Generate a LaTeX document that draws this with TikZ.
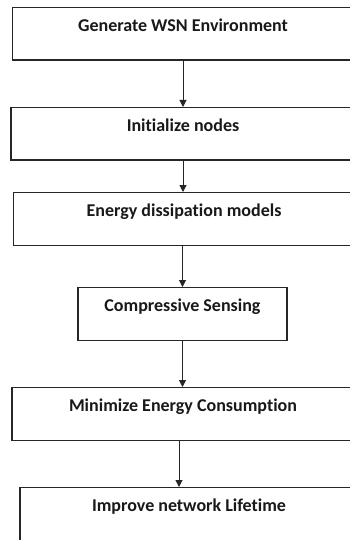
\documentclass[tikz,border=0pt]{standalone}
\usepackage{fontspec}
\setmainfont[Ligatures={NoCommon,NoContextual}]{Carlito}
\usetikzlibrary{arrows.meta,positioning}

\begin{document}
\begin{tikzpicture}[
  x=1pt, y=-1pt,
  font=\fontsize{18}{20}\selectfont\bfseries,
  stepbox/.style={draw=black!85, line width=1.1pt, fill=white, inner sep=0pt,
    text=black!90, text height=23.5pt, text depth=29pt, anchor=north},
  flow/.style={draw=black!85, line width=1pt, -{Triangle[length=7pt,width=7pt]}}
]

  % Frame
  \clip (0,0) rectangle (350,540);
  \fill[white] (0,0) rectangle (350,540);

  % Steps
  \node[stepbox, minimum width=341pt] (gen) at (183,7) {Generate WSN Environment};
  \node[stepbox, minimum width=344pt] (init) at (183,107) {Initialize nodes};
  \node[stepbox, minimum width=341pt] (model) at (184,192) {Energy dissipation models};
  \node[stepbox, minimum width=209pt] (cs) at (182.5,287) {Compressive Sensing};
  \node[stepbox, minimum width=342pt] (min) at (183,387) {Minimize Energy Consumption};
  \node[stepbox, minimum width=338pt, text depth=45pt] (life) at (189,487) {Improve network Lifetime};

  % Arrows
  \draw[flow] (gen.south) -- (gen.south |- init.north);
  \draw[flow] (init.south) -- (init.south |- model.north);
  \draw[flow] (model.south -| cs.north) -- (cs.north);
  \draw[flow] (cs.south) -- (cs.south |- min.north);
  \draw[flow] ([xshift=-4pt]min.south) -- ([xshift=-4pt]min.south |- life.north);

\end{tikzpicture}
\end{document}
